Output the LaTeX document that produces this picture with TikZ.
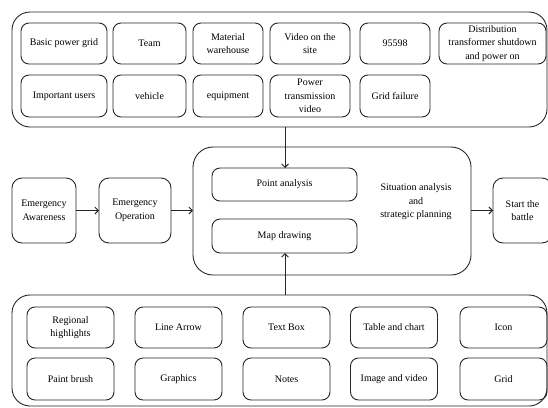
\documentclass[tikz,border=0pt]{standalone}
\usepackage{fontspec}
\setmainfont{Liberation Serif}
\usetikzlibrary{arrows.meta}
\tikzset{
  ln/.style={draw=black!85, line width=0.9pt},
  box/.style={ln, rectangle, rounded corners=8pt, inner sep=0pt, outer sep=0pt, align=center,
    font=\rmfamily\fontsize{10}{13.5}\selectfont, text=black},
  grp/.style={ln, rounded corners=18pt},
  arr/.style={ln, -{Straight Barb[length=3.5pt,width=7pt]}},
  lbl/.style={align=center, font=\rmfamily\fontsize{10}{13.5}\selectfont, text=black, inner sep=0pt}
}
\begin{document}
\begin{tikzpicture}[x=1pt,y=-1pt]
\useasboundingbox (0,0) rectangle (548,407);
\clip (0,0) rectangle (548,407);
% top group
\draw[grp] (12,12) rectangle (547,127);
\coordinate (topb) at (285,127);
\node[box, minimum width=86pt, minimum height=41pt] (t1) at (64,43.5) {Basic power grid};
\node[box, minimum width=73pt, minimum height=41pt] (t2) at (149.5,43.5) {Team};
\node[box, minimum width=70pt, minimum height=41pt] (t3) at (228,43.5) {Material\\warehouse};
\node[box, minimum width=80pt, minimum height=41pt] (t4) at (310,43.5) {Video on the\\site};
\node[box, minimum width=70pt, minimum height=41pt] (t5) at (395,43.5) {95598};
\node[box, minimum width=107pt, minimum height=41pt] (t6) at (492.5,43.5) {Distribution\\transformer shutdown\\and power on};
\node[box, minimum width=86pt, minimum height=42pt] (u1) at (64,96) {Important users};
\node[box, minimum width=73pt, minimum height=42pt] (u2) at (149.5,96) {vehicle};
\node[box, minimum width=70pt, minimum height=42pt] (u3) at (228,96) {equipment};
\node[box, minimum width=80pt, minimum height=42pt] (u4) at (310,96) {Power\\transmission\\video};
\node[box, minimum width=70pt, minimum height=42pt] (u5) at (395,96) {Grid failure};
% middle
\node[box, rounded corners=10pt, minimum width=64pt, minimum height=65pt] (ea) at (44,210.5) {Emergency\\Awareness};
\node[box, rounded corners=10pt, minimum width=72pt, minimum height=65pt] (eo) at (135,210.5) {Emergency\\Operation};
\node[box, rounded corners=20pt, minimum width=278pt, minimum height=128pt] (big) at (332,211) {};
\node[box, minimum width=145pt, minimum height=33pt] (pa) at (284.5,184.5) {Point analysis};
\node[box, minimum width=145pt, minimum height=34pt] (md) at (284.5,236) {Map drawing};
\node[lbl] (sit) at (416,202) {Situation analysis\\and\\strategic planning};
\node[box, rounded corners=10pt, minimum width=59pt, minimum height=65pt] (st) at (522.5,210.5) {Start the\\battle};
% bottom group
\draw[grp] (12,295) rectangle (547,406);
\coordinate (botb) at (285,295);
\node[box, minimum width=87pt, minimum height=41pt] (b1) at (70.5,327.5) {Regional\\highlights};
\node[box, minimum width=87pt, minimum height=41pt] (b2) at (178.5,327.5) {Line Arrow};
\node[box, minimum width=87pt, minimum height=41pt] (b3) at (286.5,327.5) {Text Box};
\node[box, minimum width=87pt, minimum height=41pt] (b4) at (394,327.5) {Table and chart};
\node[box, minimum width=87pt, minimum height=41pt] (b5) at (503.5,327.5) {Icon};
\node[box, minimum width=87pt, minimum height=42pt] (c1) at (70.5,379) {Paint brush};
\node[box, minimum width=87pt, minimum height=42pt] (c2) at (178.5,379) {Graphics};
\node[box, minimum width=87pt, minimum height=42pt] (c3) at (286.5,379) {Notes};
\node[box, minimum width=87pt, minimum height=42pt] (c4) at (394,379) {Image and video};
\node[box, minimum width=87pt, minimum height=42pt] (c5) at (503.5,379) {Grid};
% arrows
\draw[arr] (ea.east) -- (eo.west);
\draw[arr] (eo.east) -- (eo.east -| big.west);
\draw[arr] (big.east |- st.west) -- (st.west);
\draw[arr] (topb) -- (topb |- pa.north);
\draw[arr] (botb) -- (botb |- md.south);
\end{tikzpicture}
\end{document}
